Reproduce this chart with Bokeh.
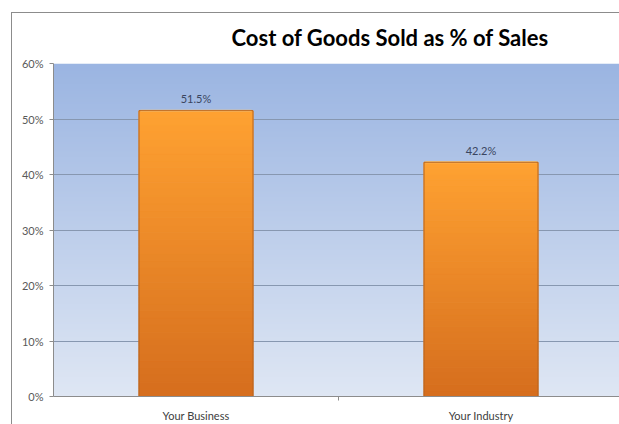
import numpy as np
from bokeh.plotting import figure
from bokeh.models import Range1d, FixedTicker, NumeralTickFormatter, ColumnDataSource, Title
from bokeh.core.properties import value
from bokeh.embed import file_html
from bokeh.resources import INLINE

# ---- data ----
categories = ["Your Business", "Your Industry"]
values = [0.515, 0.422]
value_labels = ["51.5%", "42.2%"]
y_ticks = [0.0, 0.1, 0.2, 0.3, 0.4, 0.5, 0.6]
title_text = "Cost of Goods Sold as % of Sales"

FONT = "Lato"
xpos = [i + 0.5 for i in range(len(categories))]

p = figure(width=619, height=424, output_backend="svg", toolbar_location=None,
           x_range=Range1d(0, 566 / 285), y_range=Range1d(0, 0.6),
           min_border_left=53, min_border_right=0, min_border_top=63, min_border_bottom=26)
p.background_fill_color = "white"
p.border_fill_color = None
p.outline_line_color = None
p.styles = {
    "background": "linear-gradient(#8c8c8c,#8c8c8c) 11px 12px / 1px 100% no-repeat, "
                  "linear-gradient(#8c8c8c,#8c8c8c) 11px 12px / 100% 1px no-repeat, white",
}

spacer = Title(text=" ", text_font_size="6px", standoff=0)
p.add_layout(spacer, "above")
t_obj = Title(text=title_text, align="left", offset=178, text_font=FONT, text_font_style="bold",
              text_font_size="22px", text_color="#000000")
p.add_layout(t_obj, "above")

# background gradient in the plot area
H = 200
t = np.linspace(0, 1, H)[:, None]  # 0 bottom -> 1 top
bottom_c = np.array([223, 231, 244])
top_c = np.array([155, 181, 226])
cols = (bottom_c * (1 - t) + top_c * t).astype(np.uint32)
img = np.empty((H, 1), dtype=np.uint32)
view = img.view(dtype=np.uint8).reshape((H, 1, 4))
view[:, 0, 0] = cols[:, 0]
view[:, 0, 1] = cols[:, 1]
view[:, 0, 2] = cols[:, 2]
view[:, 0, 3] = 255
p.image_rgba(image=[img], x=0, y=0, dw=2, dh=0.6, level="image")

# grid
p.xgrid.grid_line_color = None
p.ygrid.grid_line_color = "#8797b0"
p.ygrid.grid_line_width = 1
p.ygrid.level = "underlay"
p.ygrid.ticker = FixedTicker(ticks=y_ticks)

# bars with vertical gradient
N = 40
top_bar = np.array([255, 162, 50])
bot_bar = np.array([214, 110, 30])
seg_x, seg_b, seg_t, seg_c = [], [], [], []
for xc, v in zip(xpos, values):
    for k in range(N):
        f0, f1 = k / N, (k + 1) / N
        f = (f0 + f1) / 2
        c = (bot_bar * (1 - f) + top_bar * f).astype(int)
        seg_x.append(xc)
        seg_b.append(v * f0)
        seg_t.append(v * f1)
        seg_c.append("#%02x%02x%02x" % tuple(c))
p.vbar(x=seg_x, bottom=seg_b, top=seg_t, width=0.4, fill_color=seg_c, line_color=seg_c, line_width=1)
src = ColumnDataSource(dict(x=xpos, top=values, lab=value_labels))
# top highlight
p.vbar(x="x", bottom="top", top="top", width=0.39, line_color="#ffc46a", line_width=2, source=src)
p.vbar(x="x", top="top", width=0.4, fill_color=None, line_color="#b8651f", line_width=1, source=src)
p.text(x="x", y="top", text="lab", source=src, text_align="center", text_baseline="middle",
       y_offset=-12, text_font=value(FONT), text_font_size="11px", text_color="#3a4560")

# axes
p.yaxis.ticker = FixedTicker(ticks=y_ticks)
p.yaxis.formatter = NumeralTickFormatter(format="0%")
p.yaxis.axis_line_color = "#8c8c8c"
p.yaxis.major_tick_line_color = "#8c8c8c"
p.yaxis.major_tick_out = 4
p.yaxis.major_tick_in = 0
p.yaxis.minor_tick_line_color = None
p.yaxis.major_label_standoff = 6
p.yaxis.major_label_text_font = FONT
p.yaxis.major_label_text_font_size = "11px"
p.yaxis.major_label_text_color = "#595959"

p.xaxis.ticker = FixedTicker(ticks=xpos, minor_ticks=[1.0])
p.xaxis.major_label_overrides = {xv: c for xv, c in zip(xpos, categories)}
p.xaxis.axis_line_color = "#8c8c8c"
p.xaxis.major_tick_line_color = None
p.xaxis.minor_tick_line_color = "#8c8c8c"
p.xaxis.minor_tick_out = 4
p.xaxis.minor_tick_in = 0
p.xaxis.major_label_standoff = 6
p.xaxis.major_label_text_font = FONT
p.xaxis.major_label_text_font_size = "11px"
p.xaxis.major_label_text_color = "#404040"

open("out.html", "w").write(file_html(p, INLINE))
